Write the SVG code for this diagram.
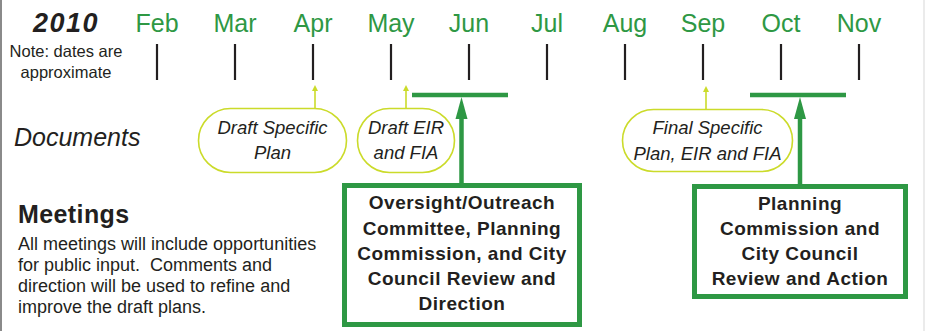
<svg xmlns="http://www.w3.org/2000/svg" width="925" height="331" viewBox="0 0 925 331">
<style>
.month{font-family:"Liberation Sans",Arial,sans-serif;font-size:25px;fill:#2e9844;text-anchor:middle}
.tick{stroke:#231f20;stroke-width:2.2}
.note{font-family:"Liberation Sans",Arial,sans-serif;font-size:16.5px;fill:#231f20;text-anchor:middle}
.pill{fill:#fff;stroke:#cbdb2a;stroke-width:1.6}
.ptxt{font-family:"Liberation Sans",Arial,sans-serif;font-style:italic;font-size:18.5px;fill:#231f20;text-anchor:middle}
.ylink{stroke:#cbdb2a;stroke-width:1.6;fill:none}
.glink{stroke:#2e9844;stroke-width:4.5;fill:none}
.box{fill:#fff;stroke:#2e9844;stroke-width:5}
.btxt{font-family:"Liberation Sans",Arial,sans-serif;font-weight:bold;font-size:19px;letter-spacing:0.5px;fill:#231f20;text-anchor:middle}
.body{font-family:"Liberation Sans",Arial,sans-serif;font-size:18px;fill:#231f20;white-space:pre}
</style>
<rect x="0" y="0" width="925" height="331" fill="#fff"/>
<line x1="1" y1="0" x2="1" y2="331" stroke="#8a8a8a" stroke-width="2"/>
<line x1="924" y1="0" x2="924" y2="331" stroke="#e4e4e4" stroke-width="1.5"/>

<g id="timeline">
<text x="66" y="32" font-family="Liberation Sans,Arial,sans-serif" font-weight="bold" font-style="italic" font-size="27" letter-spacing="1.5" fill="#231f20" text-anchor="middle">2010</text>
<text class="note" x="66" y="57">Note: dates are</text>
<text class="note" x="66" y="78">approximate</text>
<text class="month" x="157" y="32">Feb</text>
<text class="month" x="235" y="32">Mar</text>
<text class="month" x="313" y="32">Apr</text>
<text class="month" x="391" y="32">May</text>
<text class="month" x="469" y="32">Jun</text>
<text class="month" x="547" y="32">Jul</text>
<text class="month" x="625" y="32">Aug</text>
<text class="month" x="703" y="32">Sep</text>
<text class="month" x="781" y="32">Oct</text>
<text class="month" x="859" y="32">Nov</text>
<line class="tick" x1="157" y1="44" x2="157" y2="80"/>
<line class="tick" x1="235" y1="44" x2="235" y2="80"/>
<line class="tick" x1="313" y1="44" x2="313" y2="80"/>
<line class="tick" x1="391" y1="44" x2="391" y2="80"/>
<line class="tick" x1="469" y1="44" x2="469" y2="80"/>
<line class="tick" x1="547" y1="44" x2="547" y2="80"/>
<line class="tick" x1="625" y1="44" x2="625" y2="80"/>
<line class="tick" x1="703" y1="44" x2="703" y2="80"/>
<line class="tick" x1="781" y1="44" x2="781" y2="80"/>
<line class="tick" x1="859" y1="44" x2="859" y2="80"/>
</g>

<g id="labels">
<text x="14" y="146" font-family="Liberation Sans,Arial,sans-serif" font-style="italic" font-size="25" fill="#231f20">Documents</text>
<text x="18" y="223" font-family="Liberation Sans,Arial,sans-serif" font-weight="bold" font-size="25" letter-spacing="0.4" fill="#231f20">Meetings</text>
<text class="body" x="18" y="250">All meetings will include opportunities</text>
<text class="body" x="18" y="271" xml:space="preserve">for public input.  Comments and</text>
<text class="body" x="18" y="292">direction will be used to refine and</text>
<text class="body" x="18" y="313">improve the draft plans.</text>
</g>

<g id="connectors">
<line class="ylink" x1="315" y1="108" x2="315" y2="90"/>
<path d="M315,85 L312,91 L318,91 Z" fill="#cbdb2a"/>
<line class="ylink" x1="406" y1="108" x2="406" y2="90"/>
<path d="M406,85 L403,91 L409,91 Z" fill="#cbdb2a"/>
<line class="ylink" x1="706" y1="109" x2="706" y2="91"/>
<path d="M706,86 L703,92 L709,92 Z" fill="#cbdb2a"/>
<line class="glink" x1="412" y1="95" x2="508" y2="95"/>
<line class="glink" x1="461.5" y1="116" x2="461.5" y2="184"/>
<path d="M461.5,97 L455.5,119 L467.5,119 Z" fill="#2e9844"/>
<line class="glink" x1="750" y1="95" x2="846" y2="95"/>
<line class="glink" x1="800" y1="116" x2="800" y2="185"/>
<path d="M800,97 L794,119 L806,119 Z" fill="#2e9844"/>
</g>

<g id="draft-specific-plan">
<rect class="pill" x="198.5" y="108.5" width="148" height="64" rx="32"/>
<text class="ptxt" x="272.5" y="134">Draft Specific</text>
<text class="ptxt" x="272.5" y="159">Plan</text>
</g>
<g id="draft-eir">
<rect class="pill" x="357.5" y="108.5" width="97" height="64" rx="32"/>
<text class="ptxt" x="406" y="134">Draft EIR</text>
<text class="ptxt" x="406" y="159">and FIA</text>
</g>
<g id="final-specific-plan">
<rect class="pill" x="622.5" y="109.5" width="170" height="62" rx="31"/>
<text class="ptxt" x="707.5" y="134">Final Specific</text>
<text class="ptxt" x="707.5" y="160">Plan, EIR and FIA</text>
</g>

<g id="meeting-1">
<rect class="box" x="344.5" y="185.5" width="235" height="139"/>
<text class="btxt" x="462" y="209">Oversight/Outreach</text>
<text class="btxt" x="462" y="235">Committee, Planning</text>
<text class="btxt" x="462" y="260">Commission, and City</text>
<text class="btxt" x="462" y="285">Council Review and</text>
<text class="btxt" x="462" y="310">Direction</text>
</g>
<g id="meeting-2">
<rect class="box" x="694.5" y="186.5" width="211" height="110"/>
<text class="btxt" x="800" y="210">Planning</text>
<text class="btxt" x="800" y="235">Commission and</text>
<text class="btxt" x="800" y="260">City Council</text>
<text class="btxt" x="800" y="285">Review and Action</text>
</g>
</svg>
